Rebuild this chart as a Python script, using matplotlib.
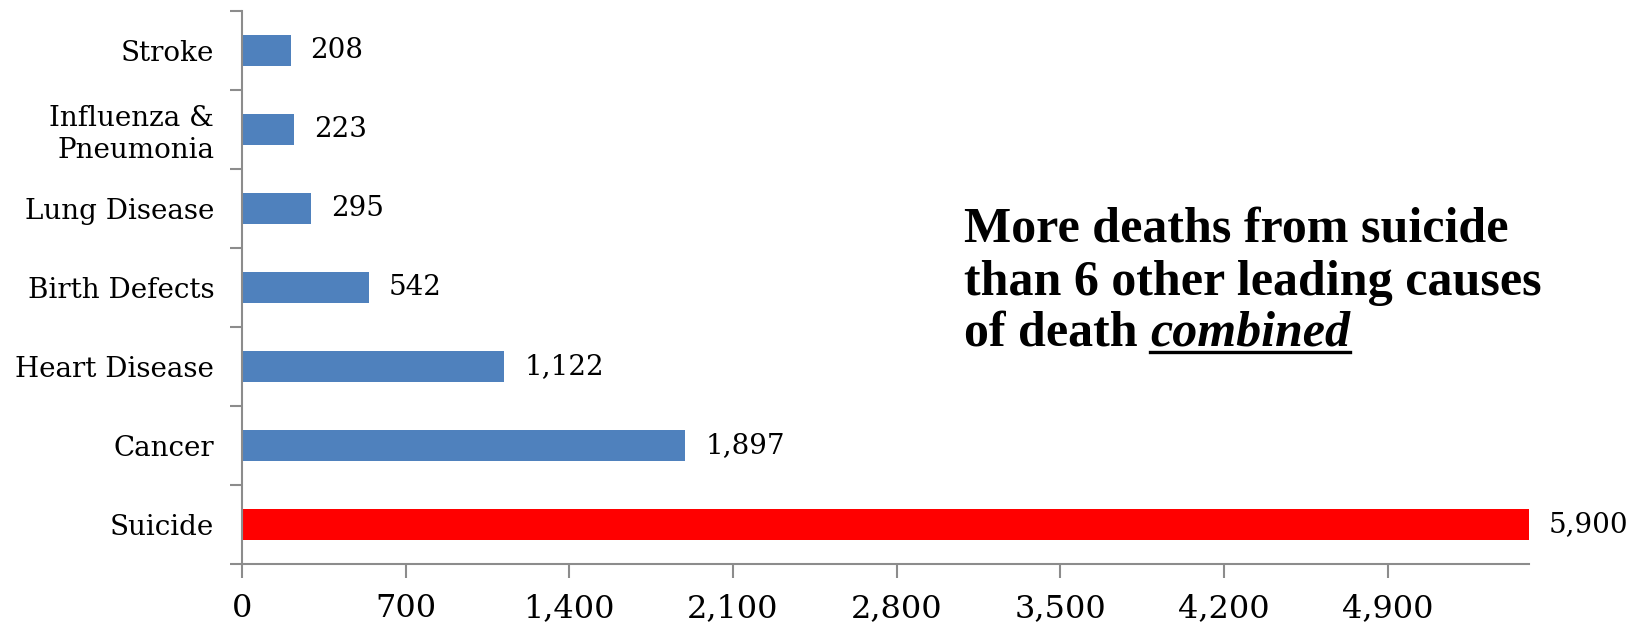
import matplotlib
matplotlib.use("Agg")
from matplotlib import pyplot as plt
from matplotlib.lines import Line2D

# causes of death, drawn bottom to top
causes = ["Suicide", "Cancer", "Heart Disease", "Birth Defects",
          "Lung Disease", "Influenza &\nPneumonia", "Stroke"]
deaths = [5900, 1897, 1122, 542, 295, 223, 208]
x_ticks = [0, 700, 1400, 2100, 2800, 3500, 4200, 4900]
x_max = 5505

BLUE = "#4F81BD"
RED = "#FF0000"
GRAY = "#8C8C8C"
SERIF = "DejaVu Serif"


def build_figure():
    fig = plt.figure(figsize=(16.45, 6.27), dpi=100)
    ax = fig.add_axes([0.1471, 0.1005, 0.9295 - 0.1471, 0.9825 - 0.1005])
    return fig, ax


def draw_bars(ax):
    colors = [RED] + [BLUE] * (len(causes) - 1)
    ypos = list(range(len(causes)))
    ax.barh(ypos, deaths, height=0.4, color=colors, zorder=2)

    ax.set_xlim(0, x_max)
    ax.set_ylim(-0.5, len(causes) - 0.5)

    # value labels sit just past the (possibly clipped) bar end
    px_per_unit = ax.get_window_extent().width / x_max
    offset = 20 / px_per_unit
    for y, v in zip(ypos, deaths):
        ax.text(min(v, x_max) + offset, y, f"{v:,}", va="center", ha="left",
                fontsize=20, family=SERIF, clip_on=False)


def style_axes(ax):
    for side in ["top", "right"]:
        ax.spines[side].set_visible(False)
    for side in ["left", "bottom"]:
        ax.spines[side].set_color(GRAY)
        ax.spines[side].set_linewidth(1.5)

    ax.set_xticks(x_ticks)
    ax.set_xticklabels([f"{t:,}" for t in x_ticks], fontsize=23, family=SERIF)
    ax.tick_params(axis="x", length=10, width=1.5, color=GRAY, pad=11)

    # category names in the middle, tick marks on the boundaries
    ax.set_yticks(range(len(causes)))
    ax.set_yticklabels(causes, fontsize=20, family=SERIF, ha="right",
                       multialignment="right")
    ax.tick_params(axis="y", length=0, pad=20)
    ax.set_yticks([i - 0.5 for i in range(len(causes) + 1)], minor=True)
    ax.tick_params(axis="y", which="minor", length=9, width=1.5, color=GRAY)


def draw_note(fig):
    kw = dict(fontsize=36, family="Liberation Serif", weight="bold",
              transform=fig.transFigure, va="baseline", ha="left")
    x0 = 964 / 1645
    fig.text(x0, 1 - 242 / 627, "More deaths from suicide", **kw)
    fig.text(x0, 1 - 295 / 627, "than 6 other leading causes", **kw)
    first = fig.text(x0, 1 - 345 / 627, "of death ", **kw)

    fig.canvas.draw()
    bb = first.get_window_extent()
    x1 = bb.x1 / fig.bbox.width
    word = fig.text(x1, 1 - 345 / 627, "combined", style="italic", **kw)
    fig.canvas.draw()
    wb = word.get_window_extent()
    uy = 1 - 352 / 627
    fig.add_artist(Line2D([wb.x0 / fig.bbox.width, wb.x1 / fig.bbox.width],
                          [uy, uy], transform=fig.transFigure,
                          color="black", linewidth=2.4))


if __name__ == "__main__":
    fig, ax = build_figure()
    draw_bars(ax)
    style_axes(ax)
    draw_note(fig)
    fig.savefig("out.png", dpi=100)
